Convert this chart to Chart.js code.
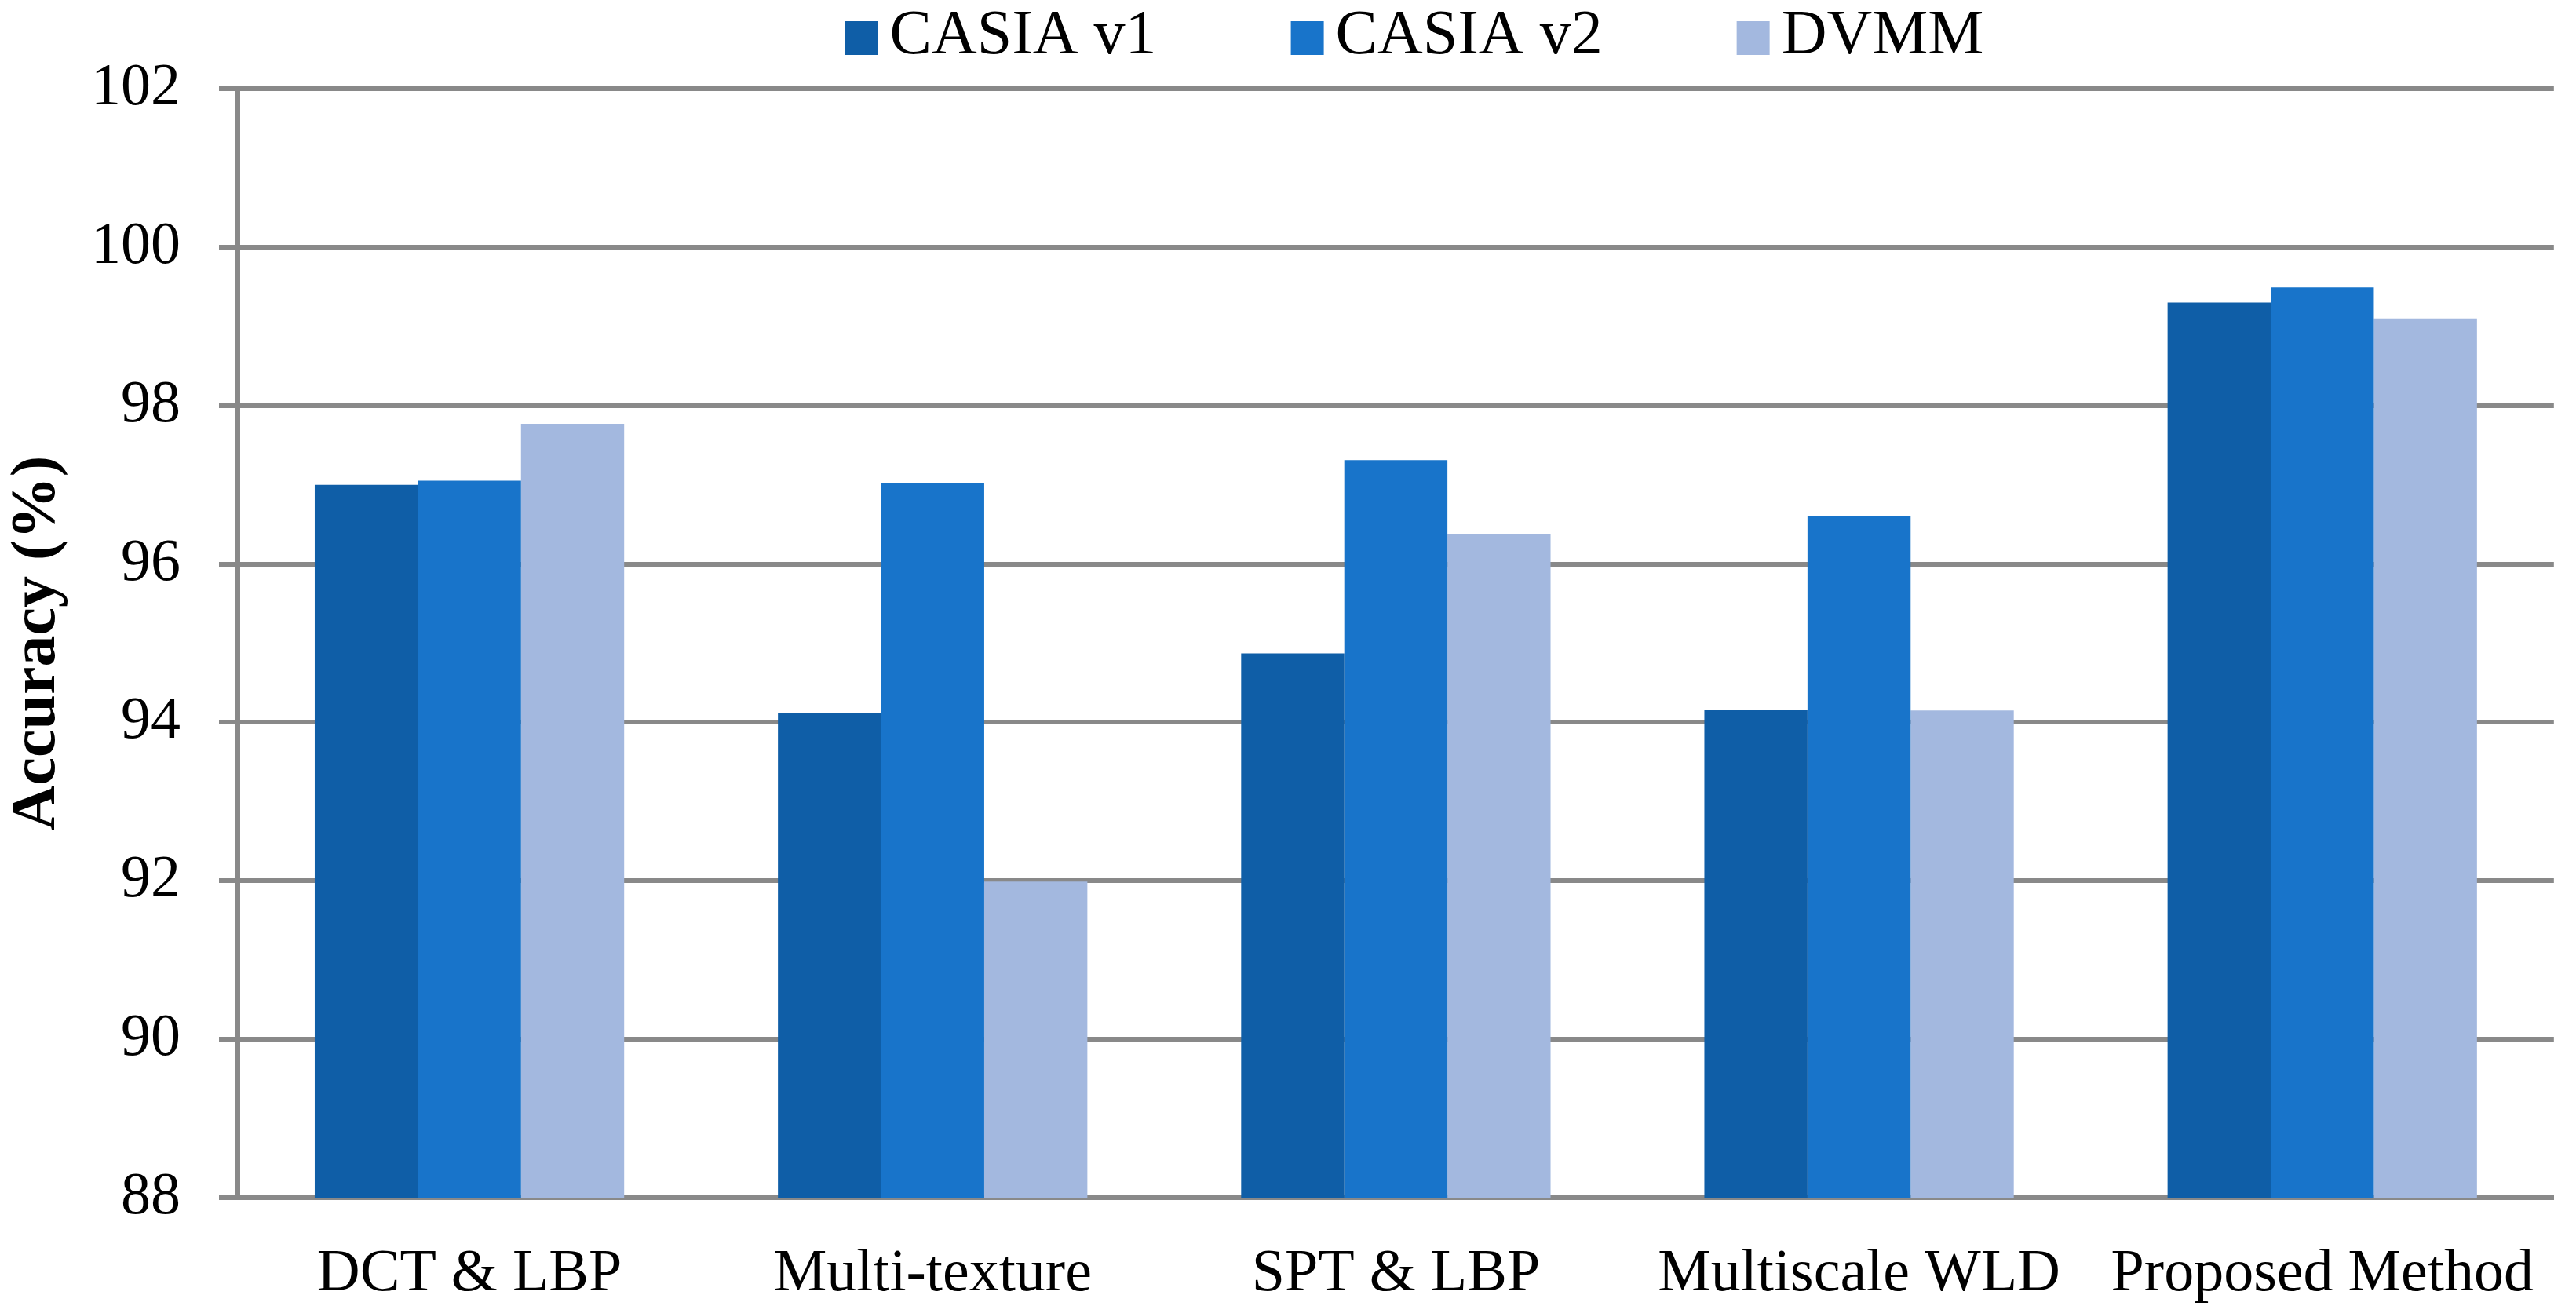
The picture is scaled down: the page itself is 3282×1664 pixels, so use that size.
<!DOCTYPE html>
<html>
<head>
<meta charset="utf-8">
<script src="https://cdn.jsdelivr.net/npm/chart.js@4/dist/chart.umd.min.js"></script>
<style>
  html, body { margin: 0; padding: 0; background: #ffffff; }
  #wrap { width: 3282px; height: 1664px; }
</style>
</head>
<body>
<div id="wrap"><canvas id="accChart" width="3282" height="1664"></canvas></div>
<script>
// categories and series
const methods = ['DCT & LBP', 'Multi-texture', 'SPT & LBP', 'Multiscale WLD', 'Proposed Method'];
const casiaV1 = [97.0, 94.12, 94.87, 94.16, 99.3];
const casiaV2 = [97.05, 97.02, 97.31, 96.6, 99.49];
const dvmm = [97.77, 91.99, 96.38, 94.15, 99.1];
const seriesNames = ['CASIA v1', 'CASIA v2', 'DVMM'];
const seriesColors = ['#0F5EA7', '#1874CA', '#A3B8DF'];
const yTicks = [88, 90, 92, 94, 96, 98, 100, 102];

const serif = "'Liberation Serif', 'Times New Roman', serif";
const gridGrey = '#898989';

// legend drawn by hand so the box/text spacing matches the original
const topLegend = {
  id: 'topLegend',
  afterDraw(chart) {
    const ctx = chart.ctx;
    const box = 42, gap = 15, itemGap = 171;
    ctx.save();
    ctx.font = '80px ' + serif;
    ctx.textBaseline = 'middle';
    ctx.textAlign = 'left';
    const items = chart.data.datasets.map(ds => ({
      text: ds.label,
      color: ds.backgroundColor,
      w: ctx.measureText(ds.label).width
    }));
    let total = 0;
    items.forEach((it, i) => {
      total += box + gap + it.w + (i < items.length - 1 ? itemGap : 0);
    });
    let x = 1802 - total / 2;
    items.forEach(it => {
      ctx.fillStyle = it.color;
      ctx.fillRect(x, 27, box, 43);
      ctx.fillStyle = '#000000';
      ctx.fillText(it.text, x + box + gap, 47);
      x += box + gap + it.w + itemGap;
    });
    ctx.restore();
  }
};

document.addEventListener('DOMContentLoaded', function () {
  const canvas = document.getElementById('accChart');
  const values = [casiaV1, casiaV2, dvmm];

  new Chart(canvas, {
    type: 'bar',
    data: {
      labels: methods,
      datasets: values.map((v, i) => ({
        label: seriesNames[i],
        data: v,
        backgroundColor: seriesColors[i],
        borderWidth: 0,
        barPercentage: 1.0,
        categoryPercentage: 0.668
      }))
    },
    options: {
      responsive: false,
      devicePixelRatio: 1,
      animation: false,
      layout: { padding: { top: 113, right: 21, left: 0, bottom: 0 } },
      plugins: {
        legend: { display: false },
        tooltip: { enabled: false }
      },
      scales: {
        x: {
          grid: { display: false, drawTicks: false },
          border: { display: true, color: gridGrey, width: 6 },
          ticks: {
            color: '#000000',
            font: { family: serif, size: 76 },
            padding: 52,
            maxRotation: 0,
            autoSkip: false
          },
          afterFit(scale) { scale.height = 138; }
        },
        y: {
          min: 88,
          max: 102,
          afterBuildTicks(scale) {
            scale.ticks = yTicks.map(v => ({ value: v }));
          },
          grid: {
            color: gridGrey,
            lineWidth: 6,
            drawTicks: true,
            tickLength: 24,
            tickColor: gridGrey,
            tickWidth: 6
          },
          border: { display: true, color: gridGrey, width: 6 },
          ticks: {
            color: '#000000',
            font: { family: serif, size: 76 },
            padding: 49
          },
          title: {
            display: true,
            text: 'Accuracy (%)',
            color: '#000000',
            font: { family: serif, size: 80, weight: 'bold' },
            padding: 0
          },
          afterFit(scale) { scale.width = 303; }
        }
      }
    },
    plugins: [topLegend]
  });
});
</script>
</body>
</html>
